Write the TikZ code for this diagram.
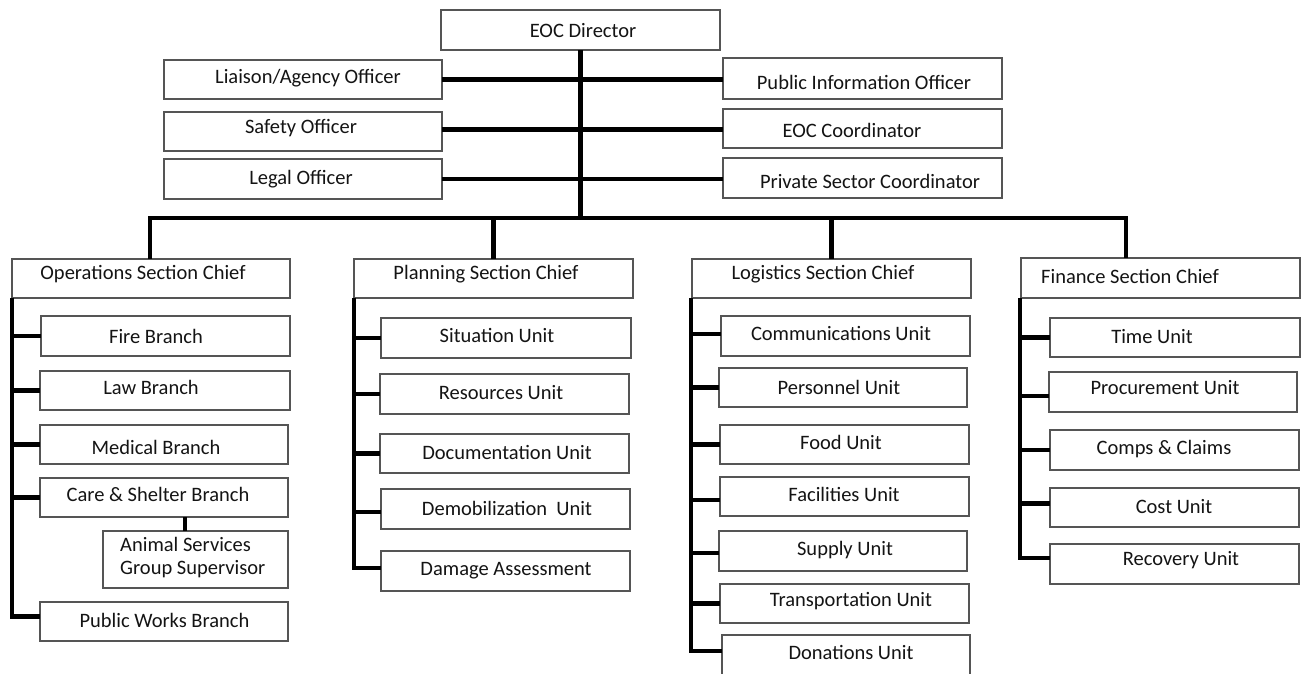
\documentclass[tikz,border=0pt]{standalone}
\usepackage{fontspec}
\setmainfont{Carlito}
\definecolor{boxline}{HTML}{555555}
\definecolor{txt}{HTML}{141414}
\tikzset{
  boxs/.style={draw=boxline, line width=1.3pt, fill=white, inner sep=0pt, outer sep=0pt, rectangle},
  lbl/.style={inner sep=0pt, anchor=base, text=txt, font=\fontsize{20.5}{23}\selectfont},
  conn/.style={line width=4.2pt, black, line join=miter}
}
\newcommand\orgbox[8]{%
  \node[boxs, minimum width={#4-#2}, minimum height={#5-#3}] (#1) at ({(#2+#4)/2},{(#3+#5)/2}) {};
  \node[lbl] (#1-t) at (#6,{#7+6.6}) {#8};}
\begin{document}
\begin{tikzpicture}[x=1pt,y=-1pt]
\useasboundingbox (0,0) rectangle (1306,673);
\clip (0,0) rectangle (1306,673);
\fill[white] (0,0) rectangle (1306,673);
\coordinate (busL) at (150,218);
\coordinate (busR) at (1126,218);

% top level boxes
\orgbox{dir}{441}{10}{720}{50}{583}{31}{EOC Director}
\orgbox{liaison}{164}{60}{442}{99}{308}{77}{Liaison/Agency Officer}
\orgbox{safety}{164}{112}{442}{151}{301}{127}{Safety Officer}
\orgbox{legal}{164}{159}{442}{199}{301}{178}{Legal Officer}
\orgbox{pio}{723}{58}{1002}{99}{864}{83}{Public Information Officer}
\orgbox{coord}{723}{109}{1002}{148}{852}{131}{EOC Coordinator}
\orgbox{private}{723}{158}{1002}{198}{870}{182}{Private Sector Coordinator}

\orgbox{ops}{12}{259}{290}{298}{143}{273}{Operations Section Chief}
\orgbox{plan}{354}{259}{633}{298}{486}{273}{Planning Section Chief}
\orgbox{log}{692}{259}{971}{298}{823}{273}{Logistics Section Chief}
\orgbox{fin}{1021}{258}{1300}{298}{1130}{277}{Finance Section Chief}

% operations
\orgbox{fire}{41}{316}{290}{356}{156}{337}{Fire Branch}
\orgbox{law}{40}{371}{290}{410}{151}{388}{Law Branch}
\orgbox{med}{40}{425}{288}{464}{156}{448}{Medical Branch}
\orgbox{care}{40}{478}{288}{517}{158}{495}{Care \& Shelter Branch}
\node[boxs, minimum width=185, minimum height=57] (animal) at (195.5,559.5) {};
\node[inner sep=0pt, anchor=west, align=left, text=txt, font=\fontsize{20.5}{23}\selectfont] (animal-t) at (120,558) {Animal Services\\Group Supervisor};
\orgbox{pw}{40}{602}{288}{641}{164.5}{621}{Public Works Branch}

% planning
\orgbox{sit}{381}{318}{631}{358}{497}{336}{Situation Unit}
\orgbox{res}{380}{374}{629}{414}{501}{393}{Resources Unit}
\orgbox{doc}{380}{434}{629}{473}{507}{453}{Documentation Unit}
\orgbox{demob}{381}{489}{630}{529}{507}{509}{Demobilization\ \ Unit}
\orgbox{dam}{381}{551}{630}{591}{506}{569}{Damage Assessment}

% logistics
\orgbox{comm}{721}{316}{970}{356}{841}{334}{Communications Unit}
\orgbox{pers}{719}{368}{967}{407}{839}{388}{Personnel Unit}
\orgbox{food}{720}{425}{969}{464}{841}{443}{Food Unit}
\orgbox{fac}{720}{477}{969}{516}{844}{495}{Facilities Unit}
\orgbox{sup}{719}{531}{967}{571}{845}{549}{Supply Unit}
\orgbox{trans}{720}{584}{969}{623}{851}{600}{Transportation Unit}
\orgbox{don}{722}{635}{970}{680}{851}{653}{Donations Unit}

% finance
\orgbox{time}{1050}{318}{1300}{357}{1152}{337}{Time Unit}
\orgbox{proc}{1049}{372}{1297}{412}{1165}{388}{Procurement Unit}
\orgbox{comps}{1050}{430}{1299}{470}{1164}{448}{Comps \& Claims}
\orgbox{cost}{1050}{488}{1299}{527}{1174}{507}{Cost Unit}
\orgbox{rec}{1050}{544}{1299}{584}{1181}{559}{Recovery Unit}

% connection points
\coordinate (safetyc) at ([yshift=2pt]safety.east);
\coordinate (pwc) at ([yshift=5pt]pw.west);
\coordinate (carec) at ([xshift=21pt]care.south);
\coordinate (damc) at ([yshift=3pt]dam.west);
\coordinate (demobc) at ([yshift=-3pt]demob.west);
\coordinate (logx) at ([xshift=-1pt]log.south west);
\coordinate (donc) at ([yshift=6.5pt]don.west);
\coordinate (commc) at ([yshift=2pt]comm.west);
\coordinate (facc) at ([yshift=-3.5pt]fac.west);
\coordinate (supc) at ([yshift=-2pt]sup.west);
\coordinate (finx) at ([xshift=-1pt]fin.south west);
\coordinate (recc) at ([yshift=6pt]rec.west);
\coordinate (procc) at ([yshift=-4pt]proc.west);
\coordinate (costc) at ([yshift=4pt]cost.west);

% ---- connectors ----
\draw[conn] (dir.south) -- (dir.south |- busL);
\draw[conn] (liaison.east) -- (liaison.east -| pio.west);
\draw[conn] (safetyc) -- (safetyc -| coord.west);
\draw[conn] (legal.east) -- (legal.east -| private.west);
\draw[conn] (busL |- ops.north) -- (busL) -- (busR) -- (busR |- fin.north);
\draw[conn] (plan.north) -- (plan.north |- busL);
\draw[conn] (log.north) -- (log.north |- busL);

% operations trunk
\draw[conn] (ops.south west) -- (ops.south west |- pwc) -- (pwc);
\draw[conn] (fire.west -| ops.south west) -- (fire.west);
\draw[conn] (law.west -| ops.south west) -- (law.west);
\draw[conn] (med.west -| ops.south west) -- (med.west);
\draw[conn] (care.west -| ops.south west) -- (care.west);
\draw[conn] (carec) -- (carec |- animal.north);

% planning trunk
\draw[conn] (plan.south west) -- (plan.south west |- damc) -- (damc);
\draw[conn] (sit.west -| plan.south west) -- (sit.west);
\draw[conn] (res.west -| plan.south west) -- (res.west);
\draw[conn] (doc.west -| plan.south west) -- (doc.west);
\draw[conn] (demobc -| plan.south west) -- (demobc);

% logistics trunk
\draw[conn] (logx) -- (logx |- donc) -- (donc);
\draw[conn] (commc -| logx) -- (commc);
\draw[conn] (pers.west -| logx) -- (pers.west);
\draw[conn] (food.west -| logx) -- (food.west);
\draw[conn] (facc -| logx) -- (facc);
\draw[conn] (supc -| logx) -- (supc);
\draw[conn] (trans.west -| logx) -- (trans.west);

% finance trunk
\draw[conn] (finx) -- (finx |- recc) -- (recc);
\draw[conn] (time.west -| finx) -- (time.west);
\draw[conn] (procc -| finx) -- (procc);
\draw[conn] (comps.west -| finx) -- (comps.west);
\draw[conn] (costc -| finx) -- (costc);
\end{tikzpicture}
\end{document}
